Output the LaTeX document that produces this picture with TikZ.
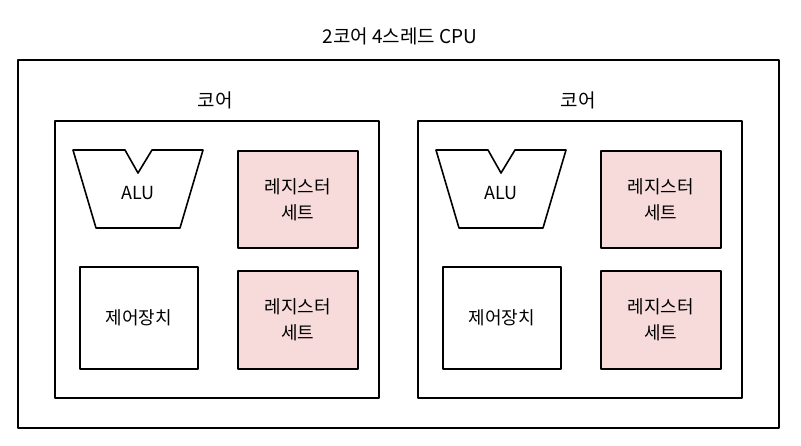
\documentclass[tikz,border=0pt]{standalone}
\usepackage{fontspec}
\setmainfont{Noto Sans CJK KR}
\definecolor{regpink}{RGB}{247,219,219}
\tikzset{
  box/.style={draw,line width=1.6pt,inner sep=0pt,align=center,anchor=north west,
    font=\fontsize{18}{26}\selectfont},
  regset/.style={box,fill=regpink,minimum width=120pt,minimum height=97pt},
  label/.style={font=\fontsize{19}{22}\selectfont}
}
\begin{document}
\begin{tikzpicture}[x=1pt,y=-1pt,line width=1.6pt,line join=round]
\useasboundingbox (0,0) rectangle (801,446);

\node[label] (title) at (400,36) {2코어 4스레드 CPU};
\node[box,minimum width=761pt,minimum height=368pt] (cpu) at (17,59) {};

% left core
\node[label] (lbl1) at (215,100) {코어};
\node[box,minimum width=324pt,minimum height=277pt] (core1) at (54,120) {};
\draw (73,150) -- (125,150) -- (138,173) -- (152,150) -- (203,150) -- (180,228) -- (96,228) -- cycle;
\node[font=\fontsize{18}{22}\selectfont] (alu1) at (138,193) {ALU};
\node[regset] (reg1a) at (237,150) {레지스터\\세트};
\node[box,minimum width=118pt,minimum height=102pt] (ctrl1) at (79,266) {제어장치};
\node[regset,minimum height=98pt] (reg1b) at (237,270) {레지스터\\세트};

% right core
\node[label] (lbl2) at (578,100) {코어};
\node[box,minimum width=324pt,minimum height=277pt] (core2) at (417,120) {};
\draw (436,150) -- (488,150) -- (501,173) -- (515,150) -- (566,150) -- (543,228) -- (459,228) -- cycle;
\node[font=\fontsize{18}{22}\selectfont] (alu2) at (501,193) {ALU};
\node[regset] (reg2a) at (600,150) {레지스터\\세트};
\node[box,minimum width=118pt,minimum height=102pt] (ctrl2) at (442,266) {제어장치};
\node[regset,minimum height=98pt] (reg2b) at (600,270) {레지스터\\세트};
\end{tikzpicture}
\end{document}
